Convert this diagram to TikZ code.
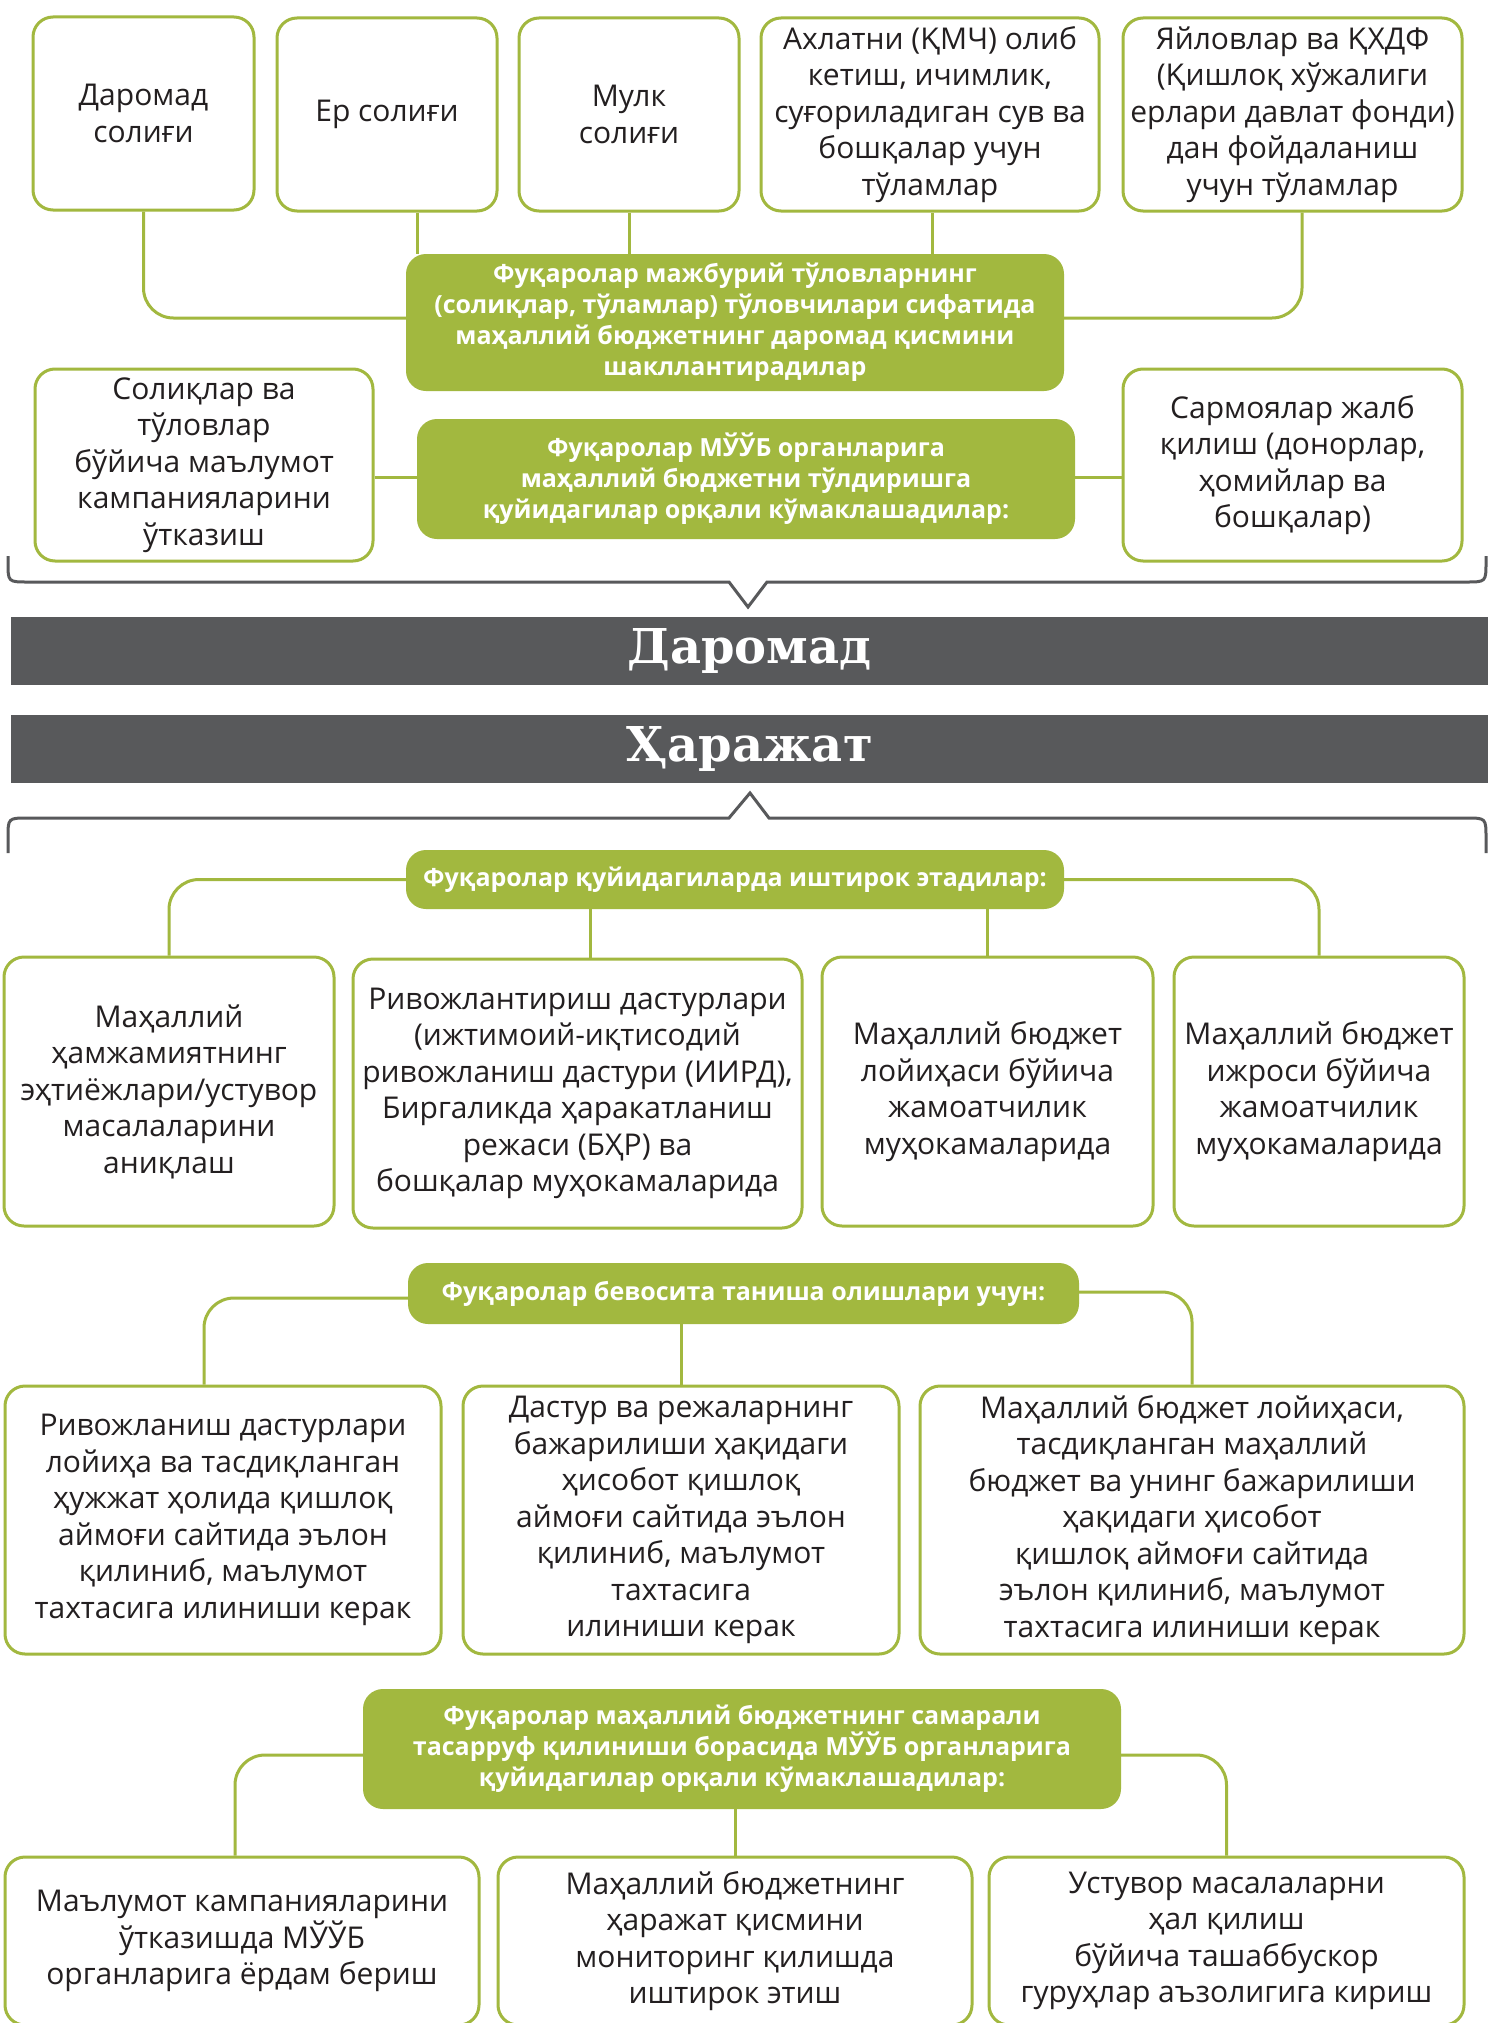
\documentclass[tikz,border=0pt]{standalone}
\usepackage{fontspec}
\setmainfont{Open Sans}
\newfontfamily\titlefont{DejaVu Serif}
\definecolor{gr}{HTML}{A2B83F}
\definecolor{bargray}{HTML}{58595B}
\definecolor{txt}{HTML}{231F20}
\tikzset{
 box/.style={draw=gr, line width=3pt, rounded corners=20pt, fill=white, align=center, text=txt, font=\fontsize{30}{36.5}\selectfont, inner sep=0pt},
 gbox/.style={fill=gr, rounded corners=20pt, align=center, text=white, font=\bfseries\fontsize{25}{31}\selectfont, inner sep=0pt},
 conn/.style={draw=gr, line width=3pt, rounded corners=30pt},
 bar/.style={fill=bargray, text=white, inner sep=0pt, font=\titlefont\bfseries\fontsize{48}{50}\selectfont},
 brk/.style={draw=bargray, line width=3pt},
}
\begin{document}
\begin{tikzpicture}[x=1pt,y=-1pt]
\useasboundingbox (0,0) rectangle (1488,2023);
\fill[white] (0,0) rectangle (1488,2023);
% top row
\node[box, minimum width=221pt, minimum height=193pt] (b1) at (143.5,113.5) {Даромад\\солиғи};
\node[box, minimum width=220pt, minimum height=193pt] (b2) at (387,114.5) {Ер солиғи};
\node[box, minimum width=220pt, minimum height=193pt] (b3) at (629,114.5) {Мулк\\солиғи};
\node[box, minimum width=338pt, minimum height=193pt] (b4) at (930,114.5) {Ахлатни (ҚМЧ) олиб\\кетиш, ичимлик,\\суғориладиган сув ва\\бошқалар учун\\тўламлар};
\node[box, minimum width=339pt, minimum height=193pt] (b5) at (1292.5,114.5) {Яйловлар ва ҚХДФ\\(Қишлоқ хўжалиги\\ерлари давлат фонди)\\дан фойдаланиш\\учун тўламлар};
\node[gbox, minimum width=658pt, minimum height=137pt] (g1) at (735,322.5) {Фуқаролар мажбурий тўловларнинг\\(солиқлар, тўламлар) тўловчилари сифатида\\маҳаллий бюджетнинг даромад қисмини\\шакллантирадилар};
\node[gbox, minimum width=658pt, minimum height=120pt] (g2) at (746,479) {Фуқаролар МЎЎБ органларига\\маҳаллий бюджетни тўлдиришга\\қуйидагилар орқали кўмаклашадилар:};
\node[box, minimum width=338pt, minimum height=192pt] (l2) at (204,465) {Солиқлар ва\\тўловлар\\бўйича маълумот\\кампанияларини\\ўтказиш};
\node[box, minimum width=339pt, minimum height=192pt] (r2) at (1292.5,465) {Сармоялар жалб\\қилиш (донорлар,\\ҳомийлар ва\\бошқалар)};
\draw[conn] (b1.south) |- ([yshift=4.5pt]g1.west);
\draw[conn] ([xshift=30pt]b2.south) -- ([xshift=30pt]b2.south |- g1.north);
\draw[conn] (b3.south) -- (b3.south |- g1.north);
\draw[conn] ([xshift=2pt]b4.south) -- ([xshift=2pt]b4.south |- g1.north);
\draw[conn] ([xshift=9.5pt]b5.south) |- ([yshift=4.5pt]g1.east);
\draw[conn] ([yshift=2pt]g2.west -| l2.east) -- ([yshift=2pt]g2.west);
\draw[conn] ([yshift=2pt]g2.east) -- ([yshift=2pt]g2.east -| r2.west);
% brackets and bars
\coordinate (k1) at (8,556);
\coordinate (k2) at (1486,556);
\draw[brk] (k1) -- (8,562) .. controls (8,582) .. (28,582) -- (729,582) -- (748,607) -- (767,582) -- (1466,582) .. controls (1486,582) .. (1486,562) -- (k2);
\node[bar, minimum width=1477pt, minimum height=68pt] (t1) at (749.5,651) {Даромад};
\node[bar, minimum width=1477pt, minimum height=68pt] (t2) at (749.5,749) {Ҳаражат};
\coordinate (k3) at (8,853);
\coordinate (k4) at (1486,853);
\draw[brk] (k3) -- (8,838) .. controls (8,818) .. (28,818) -- (729,818) -- (750,793) -- (769,818) -- (1466,818) .. controls (1486,818) .. (1486,838) -- (k4);
% expenses part 1
\node[gbox, minimum width=658pt, minimum height=59pt] (g3) at (735,879.5) {Фуқаролар қуйидагиларда иштирок этадилар:};
\node[box, minimum width=330pt, minimum height=269pt] (c1) at (169,1091.5) {Маҳаллий\\ҳамжамиятнинг\\эҳтиёжлари/устувор\\масалаларини\\аниқлаш};
\node[box, minimum width=449pt, minimum height=269pt] (c2) at (577.5,1093.5) {Ривожлантириш дастурлари\\(ижтимоий-иқтисодий\\ривожланиш дастури (ИИРД),\\Биргаликда ҳаракатланиш\\режаси (БҲР) ва\\бошқалар муҳокамаларида};
\node[box, minimum width=331pt, minimum height=269pt] (c3) at (987.5,1091.5) {Маҳаллий бюджет\\лойиҳаси бўйича\\жамоатчилик\\муҳокамаларида};
\node[box, minimum width=290pt, minimum height=269pt] (c4) at (1319,1091.5) {Маҳаллий бюджет\\ижроси бўйича\\жамоатчилик\\муҳокамаларида};
\draw[conn] (g3.west) -| (c1.north);
\draw[conn] (g3.east) -| (c4.north);
\draw[conn] ([xshift=12.5pt]c2.north) -- ([xshift=12.5pt]c2.north |- g3.south);
\draw[conn] (c3.north) -- (c3.north |- g3.south);
% part 2
\node[gbox, minimum width=671pt, minimum height=61pt] (g4) at (743.5,1293.5) {Фуқаролар бевосита таниша олишлари учун:};
\node[box, minimum width=436pt, minimum height=268pt] (d1) at (223,1520) {Ривожланиш дастурлари\\лойиҳа ва тасдиқланган\\ҳужжат ҳолида қишлоқ\\аймоғи сайтида эълон\\қилиниб, маълумот\\тахтасига илиниши керак};
\node[box, minimum width=436pt, minimum height=268pt] (d2) at (681,1520) {Дастур ва режаларнинг\\бажарилиши ҳақидаги\\ҳисобот қишлоқ\\аймоғи сайтида эълон\\қилиниб, маълумот\\тахтасига\\илиниши керак};
\node[box, minimum width=544pt, minimum height=268pt] (d3) at (1192,1520) {Маҳаллий бюджет лойиҳаси,\\тасдиқланган маҳаллий\\бюджет ва унинг бажарилиши\\ҳақидаги ҳисобот\\қишлоқ аймоғи сайтида\\эълон қилиниб, маълумот\\тахтасига илиниши керак};
\draw[conn] ([yshift=-4.5pt]g4.west) -| ([xshift=-19pt]d1.north);
\draw[conn] ([yshift=1.5pt]g4.east) -| (d3.north);
\draw[conn] (d2.north) -- (d2.north |- g4.south);
% part 3
\node[gbox, minimum width=758pt, minimum height=120pt] (g5) at (742,1749) {Фуқаролар маҳаллий бюджетнинг самарали\\тасарруф қилиниши борасида МЎЎБ органларига\\қуйидагилар орқали кўмаклашадилар:};
\node[box, minimum width=474pt, minimum height=168pt] (e1) at (242,1941) {Маълумот кампанияларини\\ўтказишда МЎЎБ\\органларига ёрдам бериш};
\node[box, minimum width=474pt, minimum height=168pt] (e2) at (735,1941) {Маҳаллий бюджетнинг\\ҳаражат қисмини\\мониторинг қилишда\\иштирок этиш};
\node[box, minimum width=475pt, minimum height=168pt] (e3) at (1226.5,1941) {Устувор масалаларни\\ҳал қилиш\\бўйича ташаббускор\\гуруҳлар аъзолигига кириш};
\draw[conn] ([yshift=-6pt]g5.west) -| ([xshift=-7pt]e1.north);
\draw[conn] ([yshift=-6pt]g5.east) -| (e3.north);
\draw[conn] (e2.north) -- (e2.north |- g5.south);
\end{tikzpicture}
\end{document}
